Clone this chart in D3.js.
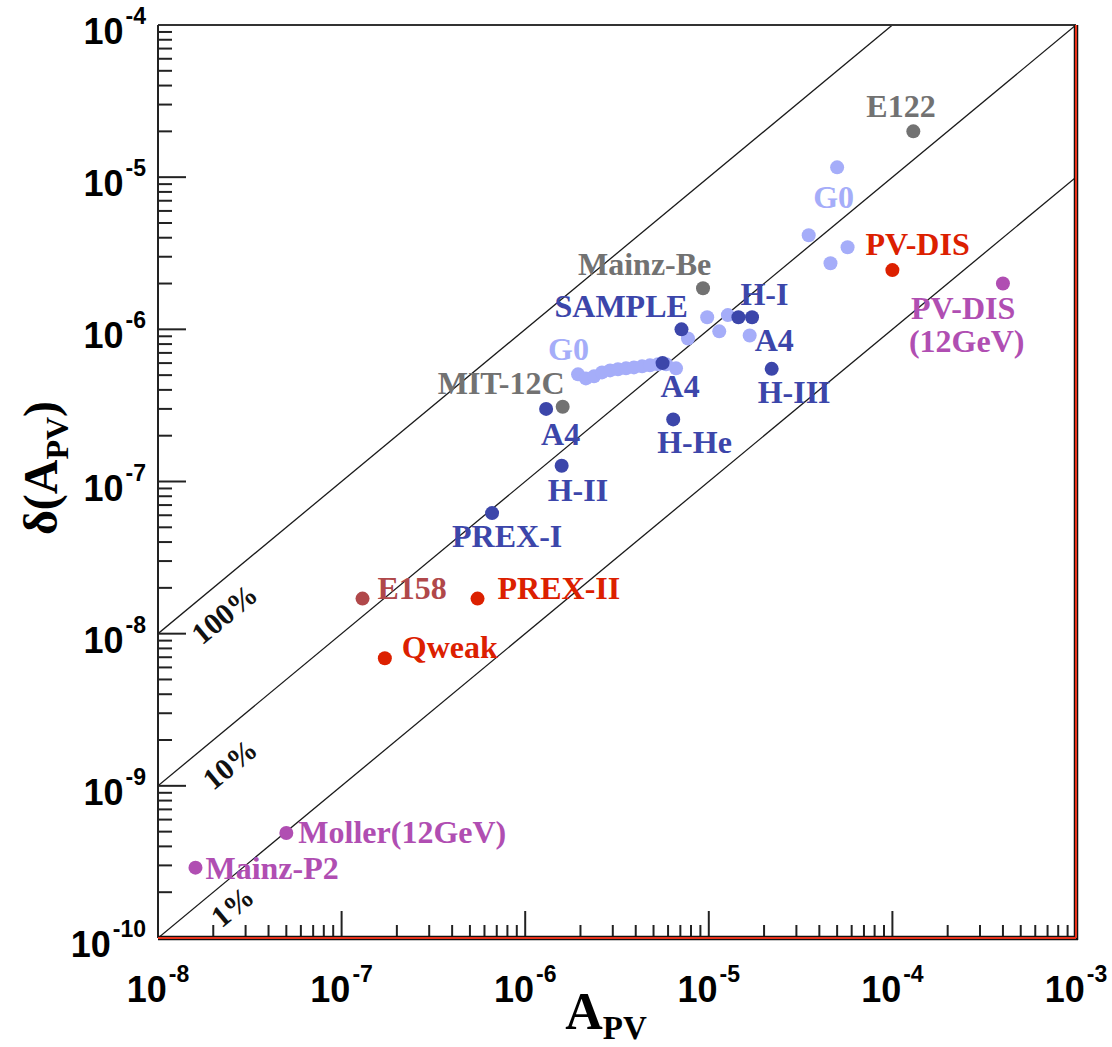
<!DOCTYPE html>
<html><head><meta charset="utf-8">
<script src="https://cdn.jsdelivr.net/npm/d3@7/dist/d3.min.js"></script>
<style>body{margin:0;background:#fff}</style>
</head><body>
<svg id="chart" width="1112" height="1047"></svg>
<script>
// ---------------- data ----------------
const xDomain = [1e-8, 1e-3];
const yDomain = [1e-10, 1e-4];
const xTickExps = [-8, -7, -6, -5, -4, -3];
const yTickExps = [-10, -9, -8, -7, -6, -5, -4];

// gray experiments
const grayNames = ["MIT-12C", "Mainz-Be", "E122"];
const grayA = [1.6e-6, 9.3e-6, 1.3e-4];
const grayD = [3.1e-7, 1.86e-6, 2.0e-5];

// G0 (light blue)
const g0A = [1.94e-6, 2.14e-6, 2.37e-6, 2.62e-6, 2.90e-6, 3.20e-6, 3.54e-6, 3.91e-6, 4.33e-6, 4.78e-6, 5.29e-6, 5.85e-6, 6.63e-6,
             7.7e-6, 9.8e-6, 1.14e-5, 1.27e-5, 1.67e-5, 3.5e-5, 4.6e-5, 5.7e-5, 5.0e-5];
const g0D = [5.06e-7, 4.76e-7, 4.91e-7, 5.21e-7, 5.37e-7, 5.46e-7, 5.54e-7, 5.62e-7, 5.71e-7, 5.80e-7, 5.89e-7, 5.89e-7, 5.54e-7,
             8.7e-7, 1.2e-6, 9.7e-7, 1.24e-6, 9.1e-7, 4.15e-6, 2.72e-6, 3.46e-6, 1.16e-5];

// dark blue experiments
const blueNames = ["SAMPLE", "H-I", "H-I", "A4", "H-III", "A4", "H-He", "H-II", "PREX-I"];
const blueA = [7.1e-6, 1.45e-5, 1.72e-5, 5.6e-6, 2.2e-5, 1.3e-6, 6.4e-6, 1.58e-6, 6.6e-7];
const blueD = [1.0e-6, 1.2e-6, 1.2e-6, 6.0e-7, 5.5e-7, 3.0e-7, 2.56e-7, 1.27e-7, 6.2e-8];

// red (planned / recent)
const redNames = ["PV-DIS", "PREX-II", "Qweak"];
const redA = [1.0e-4, 5.5e-7, 1.72e-7];
const redD = [2.45e-6, 1.7e-8, 6.9e-9];

// E158
const e158Names = ["E158"];
const e158A = [1.3e-7];
const e158D = [1.7e-8];

// purple (future)
const purpleNames = ["PV-DIS (12GeV)", "Moller(12GeV)", "Mainz-P2"];
const purpleA = [4.0e-4, 5.0e-8, 1.6e-8];
const purpleD = [2.0e-6, 4.9e-10, 2.9e-10];

// relative-precision lines
const ratios = [1, 0.1, 0.01];
const ratioLabels = ["100%", "10%", "1%"];

// ---------------- layout / style ----------------
const L = 158, R = 1076, T = 25, B = 938;
const COL = {
  gray: "#727272", g0: "#a5adf9", blue: "#3c46aa", red: "#dc2000", e158: "#b0484a", purple: "#b04eb2"
};
const serif = "'Liberation Serif','Times New Roman',serif";
const sans = "'Liberation Sans',Arial,sans-serif";

const svg = d3.select("#chart");
const x = d3.scaleLog().domain(xDomain).range([L, R]);
const y = d3.scaleLog().domain(yDomain).range([B, T]);

svg.append("clipPath").attr("id", "plotclip").append("rect")
  .attr("x", L).attr("y", T).attr("width", R - L).attr("height", B - T);

// ratio lines
const lineG = svg.append("g").attr("clip-path", "url(#plotclip)");
ratios.forEach(r => {
  const a0 = xDomain[0], a1 = Math.min(xDomain[1], yDomain[1] / r);
  lineG.append("line")
    .attr("x1", x(a0)).attr("y1", y(a0 * r))
    .attr("x2", x(a1)).attr("y2", y(a1 * r))
    .attr("stroke", "#1a1a1a").attr("stroke-width", 1.3);
});

// ratio labels (placed along each line)
const ratioLabelAt = [1.85e-8, 1.95e-8, 2.11e-8];
const ratioLabelOff = [27, 29, 23];
const slopeAng = Math.atan2(y(1e-9) - y(1e-8), x(1e-8) - x(1e-9));
ratios.forEach((r, i) => {
  const a = ratioLabelAt[i];
  const px = x(a), py = y(a * r);
  const s = Math.sin(slopeAng), c = Math.cos(slopeAng);
  const cx = px + ratioLabelOff[i] * s, cy = py + ratioLabelOff[i] * c;
  svg.append("text")
    .attr("transform", `translate(${cx},${cy}) rotate(${-slopeAng * 180 / Math.PI})`)
    .attr("text-anchor", "middle").attr("dominant-baseline", "central")
    .attr("font-family", serif).attr("font-weight", "bold").attr("font-size", 30)
    .attr("fill", "#111").text(ratioLabels[i]);
});

// axes frame
svg.append("line").attr("x1", L).attr("x2", R).attr("y1", T).attr("y2", T)
  .attr("stroke", "#333").attr("stroke-width", 2);
svg.append("line").attr("x1", L).attr("x2", L).attr("y1", T).attr("y2", B)
  .attr("stroke", "#222").attr("stroke-width", 2);

// ticks
const tickG = svg.append("g").attr("stroke", "#222").attr("stroke-width", 2);
for (let e = -10; e < -4; e++) {
  for (let k = 1; k <= 9; k++) {
    const v = k * Math.pow(10, e);
    const len = k === 1 ? 28 : 14;
    tickG.append("line").attr("x1", L).attr("x2", L + len).attr("y1", y(v)).attr("y2", y(v));
  }
}
for (let e = -8; e < -3; e++) {
  for (let k = 1; k <= 9; k++) {
    const v = k * Math.pow(10, e);
    const len = k === 1 ? 27 : 13;
    tickG.append("line").attr("x1", x(v)).attr("x2", x(v)).attr("y1", B).attr("y2", B - len);
  }
}

// bottom & right borders (black with red core)
svg.append("line").attr("x1", L).attr("x2", R + 2).attr("y1", B).attr("y2", B)
  .attr("stroke", "#111").attr("stroke-width", 4.5);
svg.append("line").attr("x1", R).attr("x2", R).attr("y1", T).attr("y2", B + 2)
  .attr("stroke", "#111").attr("stroke-width", 4.5);
svg.append("line").attr("x1", L).attr("x2", R).attr("y1", B).attr("y2", B)
  .attr("stroke", "#e8321a").attr("stroke-width", 2);
svg.append("line").attr("x1", R).attr("x2", R).attr("y1", T).attr("y2", B)
  .attr("stroke", "#e8321a").attr("stroke-width", 2);

// tick labels
yTickExps.forEach(e => {
  const t = svg.append("text").attr("x", 146).attr("y", y(Math.pow(10, e)) + 19)
    .attr("text-anchor", "end").attr("font-family", sans).attr("font-weight", "bold")
    .attr("font-size", 36).attr("fill", "#000");
  t.append("tspan").text("10");
  t.append("tspan").attr("font-size", 23).attr("dx", 2).attr("dy", -20).text(String(e));
});
xTickExps.forEach(e => {
  const t = svg.append("text").attr("x", x(Math.pow(10, e))).attr("y", 1002)
    .attr("text-anchor", "middle").attr("font-family", sans).attr("font-weight", "bold")
    .attr("font-size", 36).attr("fill", "#000");
  t.append("tspan").text("10");
  t.append("tspan").attr("font-size", 23).attr("dx", 2).attr("dy", -20).text(String(e));
});

// axis titles
const xt = svg.append("text").attr("x", 606).attr("y", 1029).attr("text-anchor", "middle")
  .attr("font-family", serif).attr("font-weight", "bold").attr("font-size", 52).attr("fill", "#000");
xt.append("tspan").text("A");
xt.append("tspan").attr("font-size", 33).attr("dy", 10).text("PV");

const yt = svg.append("text").attr("transform", "translate(57,468) rotate(-90)")
  .attr("text-anchor", "middle").attr("font-family", serif).attr("font-weight", "bold")
  .attr("font-size", 48).attr("fill", "#000");
yt.append("tspan").text("\u03b4(A");
yt.append("tspan").attr("font-size", 32).attr("dy", 11).text("PV");
yt.append("tspan").attr("dy", -11).text(")");

// points
const R0 = 7;
function drawSeries(A, D, color) {
  svg.append("g").selectAll("circle").data(A.map((a, i) => [a, D[i]])).join("circle")
    .attr("cx", d => x(d[0])).attr("cy", d => y(d[1])).attr("r", R0).attr("fill", color);
}
drawSeries(g0A, g0D, COL.g0);
drawSeries(grayA, grayD, COL.gray);
drawSeries(blueA, blueD, COL.blue);
drawSeries(redA, redD, COL.red);
drawSeries(e158A, e158D, COL.e158);
drawSeries(purpleA, purpleD, COL.purple);

// labels: [text, anchor A, anchor D, dx, dy, color]
const labelLayout = [
  ["E122", grayA[2], grayD[2], -47, -14, COL.gray],
  ["Mainz-Be", grayA[1], grayD[1], -125, -13, COL.gray],
  ["MIT-12C", grayA[0], grayD[0], -125, -13, COL.gray],
  ["G0", g0A[21], g0D[21], -24, 41, COL.g0],
  ["G0", g0A[0], g0D[0], -30, -14, COL.g0],
  ["SAMPLE", blueA[0], blueD[0], -127, -12, COL.blue],
  ["H-I", blueA[1], blueD[1], 2, -12, COL.blue],
  ["A4", g0A[17], g0D[17], 5, 15, COL.blue],
  ["A4", blueA[3], blueD[3], -2, 34, COL.blue],
  ["H-III", blueA[4], blueD[4], -14, 34, COL.blue],
  ["A4", blueA[5], blueD[5], -5, 36, COL.blue],
  ["H-He", blueA[6], blueD[6], -16, 34, COL.blue],
  ["H-II", blueA[7], blueD[7], -14, 35, COL.blue],
  ["PREX-I", blueA[8], blueD[8], -40, 34, COL.blue],
  ["PV-DIS", redA[0], redD[0], -27, -15, COL.red],
  ["PREX-II", redA[1], redD[1], 20, 0, COL.red],
  ["Qweak", redA[2], redD[2], 17, 0, COL.red],
  ["E158", e158A[0], e158D[0], 15, 0, COL.e158],
  ["PV-DIS", purpleA[0], purpleD[0], -92, 35, COL.purple],
  ["(12GeV)", purpleA[0], purpleD[0], -94, 68, COL.purple],
  ["Moller(12GeV)", purpleA[1], purpleD[1], 12, 10, COL.purple],
  ["Mainz-P2", purpleA[2], purpleD[2], 10, 11, COL.purple]
];
svg.append("g").selectAll("text").data(labelLayout).join("text")
  .attr("x", d => x(d[1]) + d[3]).attr("y", d => y(d[2]) + d[4])
  .attr("font-family", serif).attr("font-weight", "bold").attr("font-size", 32)
  .attr("fill", d => d[5]).text(d => d[0]);
</script>
</body></html>
